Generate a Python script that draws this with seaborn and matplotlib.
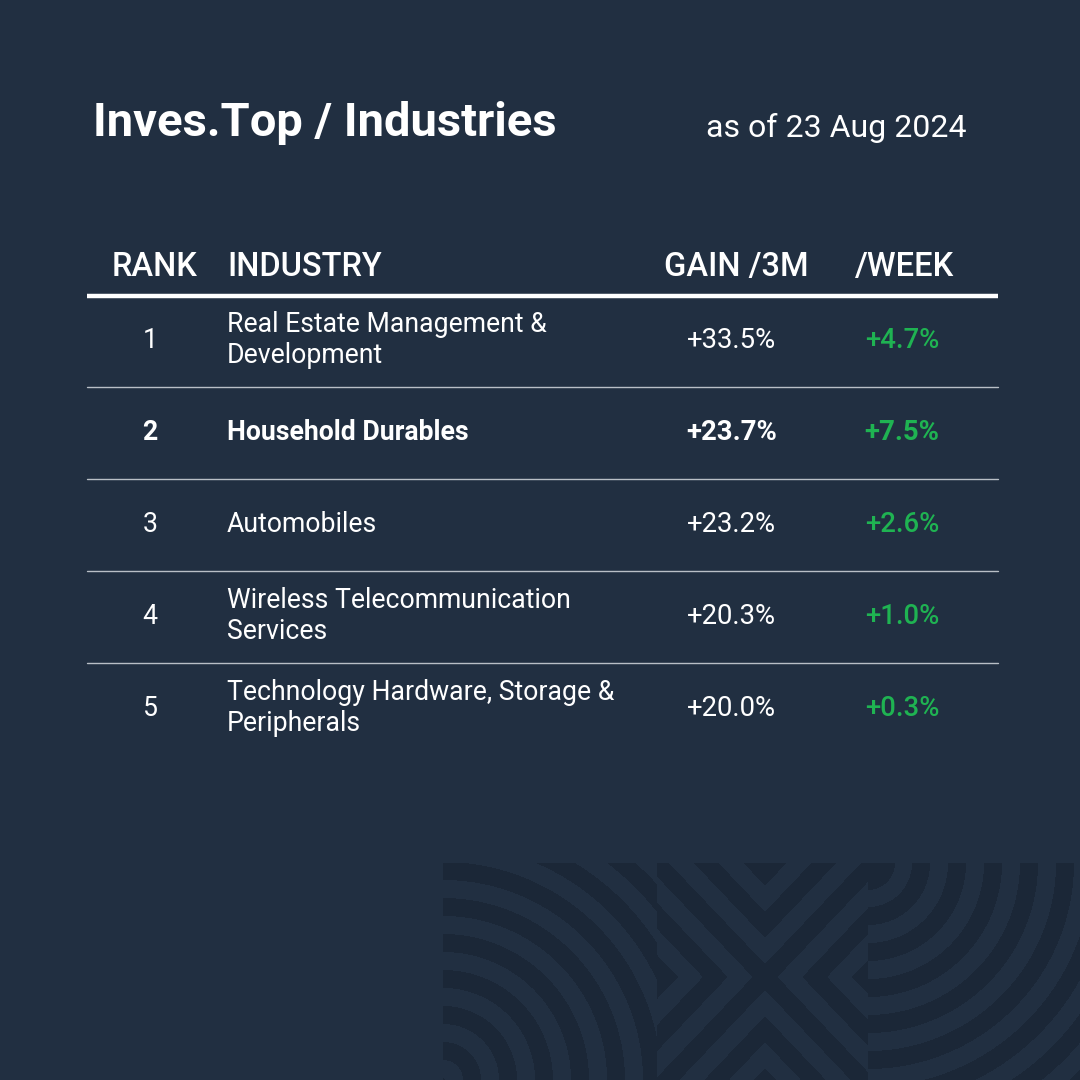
import numpy as np
import pandas as pd
import matplotlib
matplotlib.use("Agg")
import matplotlib.pyplot as plt
import seaborn as sns

# ---- data ----
ranks = [1, 2, 3, 4, 5]
industries = [
    "Real Estate Management &\nDevelopment",
    "Household Durables",
    "Automobiles",
    "Wireless Telecommunication\nServices",
    "Technology Hardware, Storage &\nPeripherals",
]
gain_3m = [33.5, 23.7, 23.2, 20.3, 20.0]
gain_week = [4.7, 7.5, 2.6, 1.0, 0.3]
highlight_rank = 2
headers = ["RANK", "INDUSTRY", "GAIN /3M", "/WEEK"]
title = "Inves.Top / Industries"
date_label = "as of 23 Aug 2024"

df = pd.DataFrame({"rank": ranks, "industry": industries,
                   "g3m": gain_3m, "gw": gain_week})

BG = "#212f41"
DARK = "#1b2737"
GREEN = "#1fb352"
WHITE = "#ffffff"
SEP = "#b9bfc6"
FONT = ["Roboto", "DejaVu Sans"]

sns.set_theme(style="dark", rc={"axes.facecolor": BG, "figure.facecolor": BG})
plt.rcParams["font.family"] = FONT

fig = plt.figure(figsize=(10.8, 10.8), dpi=100)
ax = fig.add_axes([0, 0, 1, 1])
ax.set_xlim(0, 1080)
ax.set_ylim(1080, 0)
ax.axis("off")
ax.set_facecolor(BG)

# ---- decorative background pattern (bottom right) ----
x0, x1, y0, y1 = 443, 1080, 863, 1080
xs = np.arange(x0, x1) + 0.5
ys = np.arange(y0, y1) + 0.5
X, Y = np.meshgrid(xs, ys)
dark = np.zeros_like(X, dtype=bool)
# left concentric arcs
mL = X < 657
r = np.hypot(X - 443, Y - 1080)
dark |= mL & (((r - 20) % 36) < 18)
# middle X chevrons
mM = (X >= 657) & (X < 868)
s = 1.05
n = np.sqrt(1 + s * s)
dx, dy = X - 765, Y - 977
d = np.minimum(np.abs(dy - s * dx), np.abs(dy + s * dx)) / n
dark |= mM & (((d + 9) % 36) < 18)
# right concentric arcs
mR = X >= 868
r2 = np.hypot(X - 868, Y - 863)
dark |= mR & ((r2 < 27) | (((r2 - 44) % 36) < 18))
img = np.zeros(X.shape + (4,))
rgb = matplotlib.colors.to_rgb(DARK)
img[..., 0], img[..., 1], img[..., 2] = rgb
img[..., 3] = dark.astype(float)
ax.imshow(img, extent=(x0, x1, y1, y0), origin="upper", interpolation="bilinear",
          aspect="auto", zorder=0)
ax.set_xlim(0, 1080)
ax.set_ylim(1080, 0)

# ---- title ----
ax.text(93, 136, title, color=WHITE, fontsize=33.9, fontweight="bold",
        ha="left", va="baseline")
ax.text(966, 137, date_label, color=WHITE, fontsize=23, ha="right", va="baseline")

# ---- header ----
col_x = {"rank": 154, "industry": 227, "g3m": 736, "gw": 905}
hy = 276
hfs = 23.5
ax.text(col_x["rank"], hy, headers[0], color=WHITE, fontsize=hfs, fontweight="medium",
        ha="center", va="baseline")
ax.text(col_x["industry"], hy, headers[1], color=WHITE, fontsize=hfs, fontweight="medium",
        ha="left", va="baseline")
ax.text(col_x["g3m"], hy, headers[2], color=WHITE, fontsize=hfs, fontweight="medium",
        ha="center", va="baseline")
ax.text(col_x["gw"], hy, headers[3], color=WHITE, fontsize=hfs, fontweight="medium",
        ha="center", va="baseline")
ax.plot([87, 998], [296, 296], color=WHITE, lw=3.2, solid_capstyle="butt")

# ---- rows ----
row_h = 92
first_center = 339
fs = 19.2
for i, row in df.iterrows():
    c = first_center + i * row_h
    bold = row["rank"] == highlight_rank
    fw = "bold" if bold else "normal"
    base = c + 9
    ax.text(150, base, str(row["rank"]), color=WHITE, fontsize=fs, fontweight=fw,
            ha="center", va="baseline")
    lines = row["industry"].split("\n")
    if len(lines) == 1:
        ax.text(col_x["industry"], base, lines[0], color=WHITE, fontsize=fs,
                fontweight=fw, ha="left", va="baseline")
    else:
        ax.text(col_x["industry"], c - 7, lines[0], color=WHITE, fontsize=fs,
                fontweight=fw, ha="left", va="baseline")
        ax.text(col_x["industry"], c + 24, lines[1], color=WHITE, fontsize=fs,
                fontweight=fw, ha="left", va="baseline")
    ax.text(732, base, f"+{row['g3m']:.1f}%", color=WHITE, fontsize=fs + 0.6,
            fontweight=fw, ha="center", va="baseline")
    ax.text(902, base, f"+{row['gw']:.1f}%", color=GREEN, fontsize=fs + 0.6,
            fontweight="bold" if bold else "medium", ha="center", va="baseline")
    if i < len(df) - 1:
        ax.plot([87, 998], [c + 48, c + 48], color=SEP, lw=1.0)

fig.savefig("out.png", dpi=100, facecolor=BG)
